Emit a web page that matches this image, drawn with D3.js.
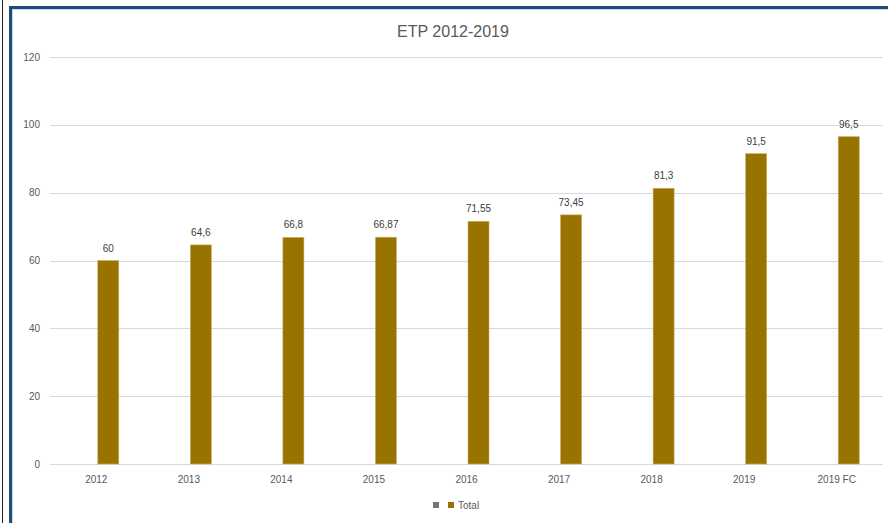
<!DOCTYPE html>
<html><head><meta charset="utf-8">
<script src="https://cdn.jsdelivr.net/npm/d3@7"></script>
<style>body{margin:0;background:#fff;}svg{display:block;font-family:"Liberation Sans",Arial,sans-serif;}</style>
</head><body><svg id="c" width="888" height="523"></svg>
<script>
const categories = ["2012","2013","2014","2015","2016","2017","2018","2019","2019 FC"];
const totalValues = [60,64.6,66.8,66.87,71.55,73.45,81.3,91.5,96.5];
const valueLabels = ["60","64,6","66,8","66,87","71,55","73,45","81,3","91,5","96,5"];
const seriesNames = ["", "Total"];
const yTicks = [0,20,40,60,80,100,120];

const svg = d3.select("#c");
// frame
svg.append("line").attr("x1",2.5).attr("x2",2.5).attr("y1",0).attr("y2",523).attr("stroke","#222").attr("stroke-width",1);
svg.append("rect").attr("x",10.5).attr("y",7.5).attr("width",900).attr("height",540)
  .attr("fill","none").attr("stroke","#1f4e79").attr("stroke-width",3);
svg.append("rect").attr("x",12.5).attr("y",9.5).attr("width",900).attr("height",540)
  .attr("fill","none").attr("stroke","#8eaadb").attr("stroke-width",0.8).attr("opacity",0.6);

const x0 = d3.scaleBand().domain(categories).range([50,883]);
const x1 = d3.scaleBand().domain(seriesNames).range([0,x0.bandwidth()]).paddingInner(0.125).paddingOuter(0.99);
const y = d3.scaleLinear().domain([0,120]).range([464,57]);

// title
svg.append("text").attr("x",453).attr("y",37).attr("text-anchor","middle")
  .attr("font-size",16).attr("fill","#595959").text("ETP 2012-2019");

// grid
svg.append("g").selectAll("line").data(yTicks).join("line")
  .attr("x1",50).attr("x2",883).attr("y1",d=>Math.round(y(d))+0.5).attr("y2",d=>Math.round(y(d))+0.5)
  .attr("stroke","#d9d9d9").attr("stroke-width",1);
svg.append("g").selectAll("text").data(yTicks).join("text")
  .attr("x",40).attr("y",d=>y(d)+3.5).attr("text-anchor","end")
  .attr("font-size",10).attr("fill","#595959").text(d=>d);

// bars
const data = categories.map((c,i)=>({c, v: totalValues[i], l: valueLabels[i]}));
svg.append("g").selectAll("rect").data(data).join("rect")
  .attr("x",d=>x0(d.c)+x1("Total")).attr("width",x1.bandwidth())
  .attr("y",d=>y(d.v)).attr("height",d=>y(0)-y(d.v))
  .attr("fill","#997300").attr("stroke","#c9ad66").attr("stroke-width",0.6);
svg.append("g").selectAll("text").data(data).join("text")
  .attr("x",d=>x0(d.c)+x1("Total")+x1.bandwidth()/2).attr("y",d=>y(d.v)-9)
  .attr("text-anchor","middle").attr("font-size",10).attr("fill","#404040").text(d=>d.l);

// x labels
svg.append("g").selectAll("text").data(categories).join("text")
  .attr("x",d=>x0(d)+x0.bandwidth()/2).attr("y",483).attr("text-anchor","middle")
  .attr("font-size",10).attr("fill","#595959").text(d=>d);

// legend
svg.append("rect").attr("x",433).attr("y",502).attr("width",6).attr("height",6).attr("fill","#767676");
svg.append("rect").attr("x",448).attr("y",502).attr("width",6).attr("height",6).attr("fill","#997300");
svg.append("text").attr("x",458).attr("y",509).attr("font-size",10).attr("fill","#595959").text("Total");
</script></body></html>
